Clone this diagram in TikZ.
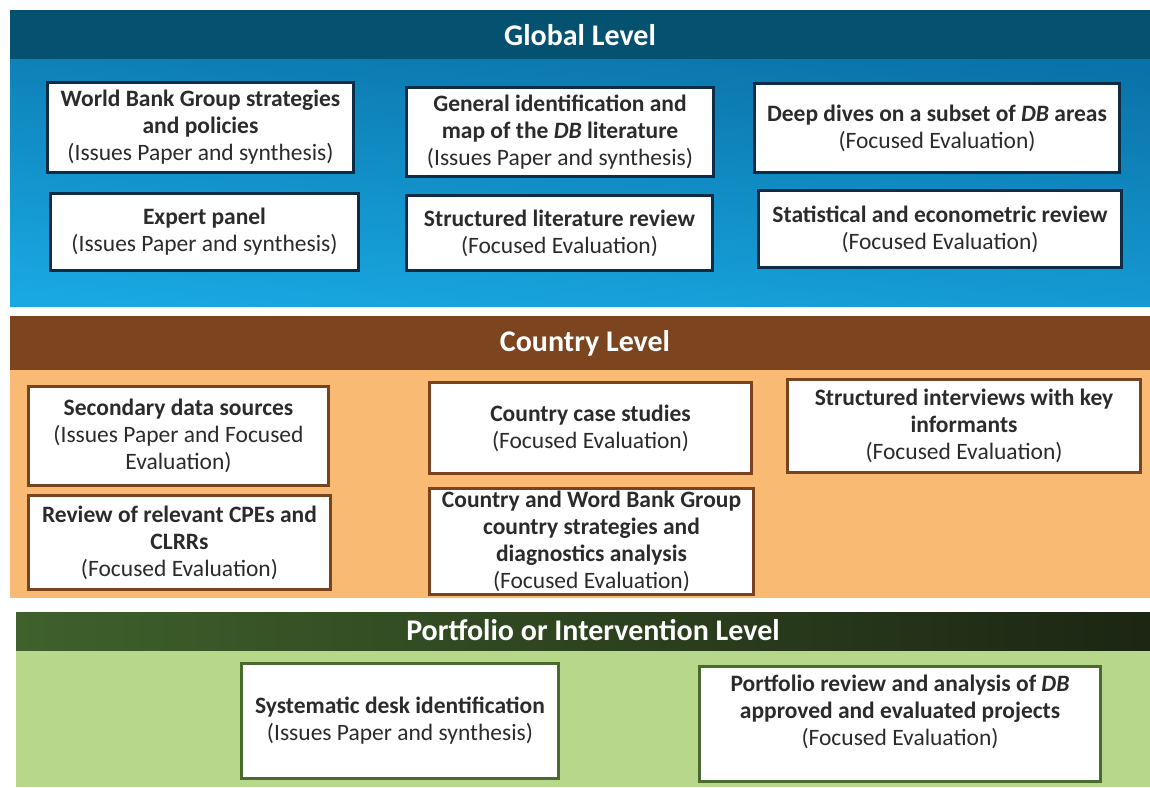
\documentclass[tikz,border=0pt]{standalone}
\usepackage{fontspec}
\setmainfont{Carlito}
\definecolor{txt}{HTML}{2B2B2B}
\definecolor{ghead}{HTML}{055270}
\definecolor{gblueA}{HTML}{0A72A8}
\definecolor{gblueB}{HTML}{19A8E2}
\definecolor{gborder}{HTML}{0E2C44}
\definecolor{chead}{HTML}{7C441F}
\definecolor{cbody}{HTML}{F9BB73}
\definecolor{cborder}{HTML}{7A4320}
\definecolor{pheadA}{HTML}{3F612C}
\definecolor{pheadB}{HTML}{1C2613}
\definecolor{pbody}{HTML}{B7D88B}
\definecolor{pborder}{HTML}{4A6A30}
\begin{document}
\begin{tikzpicture}[x=1pt,y=-1pt,
  box/.style={draw, line width=2.6pt, fill=white, align=center, text=txt, inner sep=1pt, font=\fontsize{23.5}{27}\selectfont},
  gbox/.style={box, draw=gborder},
  cbox/.style={box, draw=cborder},
  pbox/.style={box, draw=pborder},
  head/.style={text=white, font=\fontsize{30}{32}\selectfont\bfseries}]
\useasboundingbox (0,0) rectangle (1150,787);
\fill[white] (0,0) rectangle (1150,787);
% ---------- Global level
\shade[top color=gblueA, bottom color=gblueB, shading angle=-5] (10,58) rectangle (1150,306);
\fill[ghead] (10,10) rectangle (1150,59);
\node[head] (gl) at (580,35) {Global Level};
\node[gbox, minimum width=306pt, minimum height=90pt] (b1) at (200.5,127.5)
  {\textbf{World Bank Group strategies}\\\textbf{and policies}\\(Issues Paper and synthesis)};
\node[gbox, minimum width=308pt, minimum height=77pt] (b2) at (204.5,232)
  {\textbf{Expert panel}\\(Issues Paper and synthesis)};
\node[gbox, minimum width=307pt, minimum height=89pt] (b3) at (560,132)
  {\textbf{General identification and}\\\textbf{map of the \textit{DB} literature}\\(Issues Paper and synthesis)};
\node[gbox, minimum width=306pt, minimum height=75pt] (b4) at (559.5,233)
  {\textbf{Structured literature review}\\(Focused Evaluation)};
\node[gbox, minimum width=365pt, minimum height=89pt] (b5) at (937,128)
  {\textbf{Deep dives on a subset of \textit{DB} areas}\\(Focused Evaluation)};
\node[gbox, minimum width=363pt, minimum height=77pt] (b6) at (940,229)
  {\textbf{Statistical and econometric review}\\(Focused Evaluation)};
% ---------- Country level
\fill[cbody] (10,369) rectangle (1150,598);
\fill[chead] (10,316) rectangle (1150,370);
\node[head] (cl) at (585,343) {Country Level};
\node[cbox, minimum width=300pt, minimum height=99pt] (c1) at (178.5,436)
  {\textbf{Secondary data sources}\\(Issues Paper and Focused\\Evaluation)};
\node[cbox, minimum width=302pt, minimum height=94pt] (c2) at (179.5,542.5)
  {\textbf{Review of relevant CPEs and}\\\textbf{CLRRs}\\(Focused Evaluation)};
\node[cbox, minimum width=322pt, minimum height=91pt] (c3) at (590.5,428)
  {\textbf{Country case studies}\\(Focused Evaluation)};
\node[cbox, minimum width=324pt, minimum height=106pt] (c4) at (591.5,541.5)
  {\textbf{Country and Word Bank Group}\\\textbf{country strategies and}\\\textbf{diagnostics analysis}\\(Focused Evaluation)};
\node[cbox, minimum width=353pt, minimum height=93pt] (c5) at (964,426)
  {\textbf{Structured interviews with key}\\\textbf{informants}\\(Focused Evaluation)};
% ---------- Portfolio level
\fill[pbody] (16,649) rectangle (1150,787);
\shade[left color=pheadA, right color=pheadB] (16,612) rectangle (1150,650);
\node[head] (pl) at (593,630) {Portfolio or Intervention Level};
\node[pbox, minimum width=317pt, minimum height=115pt] (p1) at (400,721)
  {\textbf{Systematic desk identification}\\(Issues Paper and synthesis)};
\node[pbox, minimum width=401pt, minimum height=115pt] (p2) at (900,724)
  {\textbf{Portfolio review and analysis of \textit{DB}}\\\textbf{approved and evaluated projects}\\(Focused Evaluation)\\~};
\end{tikzpicture}
\end{document}
